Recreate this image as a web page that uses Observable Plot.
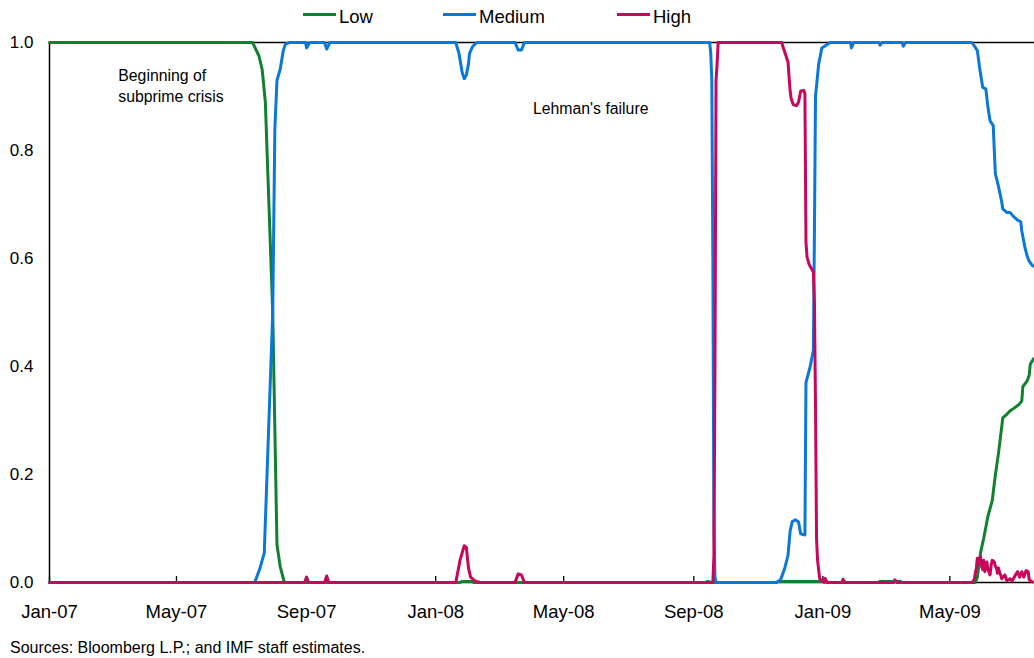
<!DOCTYPE html>
<html><head><meta charset="utf-8">
<script src="https://cdn.jsdelivr.net/npm/d3@7"></script>
<script src="https://cdn.jsdelivr.net/npm/@observablehq/plot@0.6"></script>
<style>
body{margin:0;background:#fff;font-family:"Liberation Sans",Arial,sans-serif;color:#000;}
#wrap{position:relative;width:1034px;height:658px;overflow:hidden;}
#legend{position:relative;height:30px;}
.sw{position:absolute;top:12.5px;width:33px;height:3px;}
.lt{position:absolute;top:6px;font-size:18.5px;line-height:21px;white-space:nowrap;}
#caption{position:absolute;left:10px;top:639px;font-size:16px;line-height:18px;white-space:nowrap;}
svg{display:block;}
</style></head><body>
<div id="wrap"><div id="legend"></div><div id="chart"></div><div id="caption">Sources: Bloomberg L.P.; and IMF staff estimates.</div></div>
<script>
const seriesNames = ["Low", "Medium", "High"];
const seriesColors = ["#12812f", "#0a78d6", "#c8075c"];

const lowSeries = [
  ["2007-01-01",1],["2007-07-12",1],["2007-07-18",0.975],["2007-07-21",0.95],["2007-07-24",0.89],
  ["2007-07-31",0.5],["2007-08-04",0.07],["2007-08-07",0.03],["2007-08-11",0],
  ["2008-01-24",0],["2008-01-26",0.002],["2008-02-04",0.002],["2008-02-06",0],
  ["2008-09-12",0],["2008-09-14",0.002],["2008-09-18",0],
  ["2008-11-18",0],["2008-11-20",0.002],["2009-01-03",0.002],["2009-01-05",0],
  ["2009-02-22",0],["2009-02-24",0.002],["2009-03-15",0.002],["2009-03-17",0],
  ["2009-05-25",0],["2009-05-27",0.01],["2009-05-30",0.055],["2009-06-02",0.082],["2009-06-06",0.123],
  ["2009-06-10",0.151],["2009-06-13",0.199],["2009-06-16",0.24],["2009-06-19",0.288],["2009-06-20",0.305],
  ["2009-06-24",0.312],["2009-06-27",0.318],["2009-06-30",0.322],["2009-07-05",0.329],["2009-07-08",0.336],
  ["2009-07-09",0.363],["2009-07-13",0.373],["2009-07-15",0.384],["2009-07-16",0.404],["2009-07-19",0.414]
];

const mediumSeries = [
  ["2007-01-01",0],["2007-07-14",0],["2007-07-19",0.027],["2007-07-23",0.055],["2007-07-31",0.5],
  ["2007-08-02",0.84],["2007-08-04",0.93],["2007-08-07",0.95],["2007-08-10",0.985],["2007-08-12",0.997],
  ["2007-08-16",1],["2007-08-31",1],["2007-09-01",0.99],["2007-09-04",1],["2007-09-18",1],["2007-09-20",0.988],
  ["2007-09-23",1],["2008-01-20",1],["2008-01-23",0.98],["2008-01-26",0.945],["2008-01-28",0.933],
  ["2008-01-30",0.94],["2008-02-01",0.96],["2008-02-02",0.98],["2008-02-05",0.993],["2008-02-09",1],
  ["2008-03-16",1],["2008-03-19",0.986],["2008-03-22",0.986],["2008-03-25",1],
  ["2008-09-16",1],["2008-09-17",0.98],["2008-09-18",0.93],["2008-09-19",0.6],["2008-09-20",0.1],
  ["2008-09-21",0.01],["2008-09-22",0],["2008-11-18",0],["2008-11-22",0.005],["2008-11-26",0.027],
  ["2008-11-29",0.05],["2008-12-01",0.095],["2008-12-03",0.113],["2008-12-06",0.116],["2008-12-09",0.112],
  ["2008-12-11",0.09],["2008-12-15",0.088],["2008-12-16",0.37],["2008-12-20",0.40],["2008-12-23",0.43],
  ["2008-12-24",0.65],["2008-12-25",0.9],["2008-12-28",0.96],["2008-12-31",0.99],["2009-01-08",1],
  ["2009-01-27",1],["2009-01-28",0.99],["2009-01-30",1],["2009-02-23",1],["2009-02-24",0.995],["2009-02-26",1],
  ["2009-03-17",1],["2009-03-18",0.993],["2009-03-20",1],["2009-05-22",1],["2009-05-27",0.985],
  ["2009-05-29",0.955],["2009-06-01",0.917],["2009-06-04",0.914],["2009-06-06",0.88],["2009-06-08",0.855],
  ["2009-06-11",0.846],["2009-06-12",0.8],["2009-06-13",0.757],["2009-06-16",0.733],["2009-06-19",0.705],
  ["2009-06-20",0.692],["2009-06-24",0.685],["2009-06-27",0.685],["2009-06-30",0.678],["2009-07-04",0.671],
  ["2009-07-07",0.668],["2009-07-08",0.651],["2009-07-11",0.62],["2009-07-13",0.605],["2009-07-15",0.595],
  ["2009-07-18",0.587],["2009-07-19",0.586]
];

const highSeries = [
  ["2007-01-01",0],["2007-08-30",0],["2007-09-01",0.01],["2007-09-03",0],["2007-09-18",0],["2007-09-20",0.012],
  ["2007-09-22",0],["2008-01-20",0],["2008-01-24",0.041],["2008-01-28",0.068],["2008-01-30",0.065],
  ["2008-02-01",0.027],["2008-02-03",0.01],["2008-02-07",0.003],["2008-02-12",0],
  ["2008-03-16",0],["2008-03-19",0.016],["2008-03-22",0.014],["2008-03-25",0],
  ["2008-09-19",0],["2008-09-20",0.05],["2008-09-21",0.4],["2008-09-22",0.93],["2008-09-23",0.96],
  ["2008-09-24",1],["2008-11-23",1],["2008-11-25",0.988],["2008-11-27",0.976],["2008-11-29",0.964],
  ["2008-12-01",0.911],["2008-12-02",0.896],["2008-12-04",0.885],["2008-12-07",0.883],["2008-12-09",0.89],
  ["2008-12-11",0.91],["2008-12-14",0.911],["2008-12-15",0.905],["2008-12-16",0.63],["2008-12-17",0.603],
  ["2008-12-19",0.589],["2008-12-23",0.575],["2008-12-24",0.52],["2008-12-25",0.33],["2008-12-26",0.08],
  ["2008-12-27",0.04],["2008-12-29",0.007],["2009-01-02",0],["2009-01-03",0.008],["2009-01-05",0],
  ["2009-01-19",0],["2009-01-20",0.006],["2009-01-22",0],["2009-03-09",0],["2009-03-10",0.005],["2009-03-12",0],
  ["2009-05-22",0],["2009-05-24",0.005],["2009-05-26",0.027],["2009-05-27",0.045],["2009-05-28",0.035],
  ["2009-05-29",0.041],["2009-05-30",0.048],["2009-05-31",0.03],["2009-06-01",0.024],["2009-06-02",0.041],
  ["2009-06-03",0.02],["2009-06-04",0.03],["2009-06-05",0.038],["2009-06-06",0.024],["2009-06-08",0.014],
  ["2009-06-09",0.031],["2009-06-10",0.041],["2009-06-11",0.04],["2009-06-12",0.038],["2009-06-13",0.03],
  ["2009-06-14",0.027],["2009-06-15",0.017],["2009-06-16",0.027],["2009-06-17",0.018],["2009-06-18",0.014],
  ["2009-06-19",0.007],["2009-06-22",0.014],["2009-06-24",0.003],["2009-06-27",0.007],["2009-06-29",0.003],
  ["2009-07-02",0.014],["2009-07-04",0.02],["2009-07-06",0.01],["2009-07-08",0.02],["2009-07-10",0.01],
  ["2009-07-12",0.022],["2009-07-14",0.02],["2009-07-15",0.005],["2009-07-18",0.001]
];

const xTickDates = ["2007-01-01","2007-05-01","2007-09-01","2008-01-01","2008-05-01","2008-09-01","2009-01-01","2009-05-01"];
const yTickValues = [0, 0.2, 0.4, 0.6, 0.8, 1.0];
const xDomain = ["2007-01-01", "2009-07-20"];

const noteLabels = ["Beginning of\nsubprime crisis", "Lehman's failure"];
const noteDates = ["2007-03-07", "2008-04-02"];
const noteValues = [0.922, 0.880];

const parse = d3.utcParse("%Y-%m-%d");
const allSeries = [lowSeries, mediumSeries, highSeries];
const rows = [];
allSeries.forEach((s, i) => s.forEach(([d, v]) => rows.push({series: seriesNames[i], date: parse(d), value: v})));
const ticks = xTickDates.map(parse);
const notes = noteLabels.map((t, i) => ({text: t, date: parse(noteDates[i]), value: noteValues[i]}));
const font = '"Liberation Sans", Arial, sans-serif';

const chart = Plot.plot({
  width: 1034,
  height: 602,
  marginTop: 12,
  marginLeft: 49,
  marginRight: 0,
  marginBottom: 50,
  style: {fontFamily: font, fontSize: "17px", color: "#000", background: "transparent", overflow: "visible"},
  x: {type: "utc", domain: xDomain.map(parse)},
  y: {domain: [0, 1]},
  color: {domain: seriesNames, range: seriesColors},
  marks: [
    Plot.ruleY([0, 1], {stroke: "#000", strokeWidth: 1.3}),
    Plot.ruleX([parse(xDomain[0])], {stroke: "#000", strokeWidth: 1.5}),
    Plot.ruleX(ticks, {y1: 0, y2: 0.011, stroke: "#000", strokeWidth: 1.3}),
    Plot.axisX({ticks: ticks, tickFormat: d3.utcFormat("%b-%y"), tickSize: 0, tickPadding: 22, fontSize: 18.5, label: null}),
    Plot.axisY({ticks: yTickValues, tickFormat: d3.format(".1f"), tickSize: 0, tickPadding: 16, fontSize: 17, label: null}),
    Plot.line(rows, {x: "date", y: "value", z: "series", stroke: "series", strokeWidth: 3, strokeLinejoin: "round"}),
    Plot.text(notes, {x: "date", y: "value", text: "text", textAnchor: "start", lineAnchor: "middle", lineHeight: 1.33, fontSize: 15.8, fill: "#000"})
  ]
});
document.getElementById("chart").appendChild(chart);

const legend = document.getElementById("legend");
const legendX = [303, 443, 617];
seriesNames.forEach((name, i) => {
  const sw = document.createElement("div");
  sw.className = "sw";
  sw.style.left = legendX[i] + "px";
  sw.style.background = seriesColors[i];
  legend.appendChild(sw);
  const t = document.createElement("div");
  t.className = "lt";
  t.style.left = (legendX[i] + 36) + "px";
  t.textContent = name;
  legend.appendChild(t);
});
</script>
</body></html>
